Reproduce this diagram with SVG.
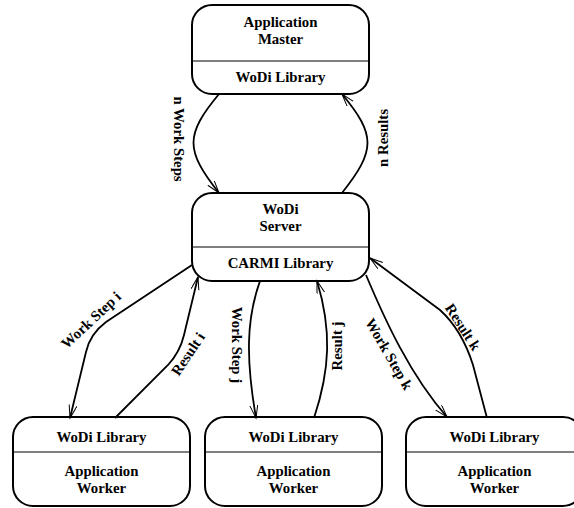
<svg xmlns="http://www.w3.org/2000/svg" width="574" height="508" viewBox="0 0 574 508">
<style>
.box{fill:#fff;stroke:#000;stroke-width:2}
.div{stroke:#000;stroke-width:1.2}
.t{font-family:"Liberation Serif","Times New Roman",serif;font-weight:bold;font-size:14.8px;fill:#000;text-anchor:middle}
.c{fill:none;stroke:#000;stroke-width:1.8}
</style>
<defs>
<marker id="arr" markerUnits="userSpaceOnUse" markerWidth="16" markerHeight="10" refX="13" refY="4" orient="auto">
<path d="M0,0 L13,4 L0,8" fill="none" stroke="#000" stroke-width="1"/>
</marker>
</defs>
<rect width="574" height="508" fill="#fff"/>
<g id="master">
<rect class="box" x="192" y="5" width="177" height="89" rx="20"/>
<line class="div" x1="192" y1="61" x2="369" y2="61"/>
<text class="t" x="280.5" y="27">Application</text>
<text class="t" x="280.5" y="44">Master</text>
<text class="t" x="280.5" y="82">WoDi Library</text>
</g>
<g id="server">
<rect class="box" x="192" y="193" width="177" height="88" rx="20"/>
<line class="div" x1="192" y1="247" x2="369" y2="247"/>
<text class="t" x="280.5" y="214">WoDi</text>
<text class="t" x="280.5" y="231">Server</text>
<text class="t" x="280.5" y="268">CARMI Library</text>
</g>
<g id="worker1">
<rect class="box" x="13" y="417" width="177" height="89" rx="20"/>
<line class="div" x1="13" y1="452" x2="190" y2="452"/>
<text class="t" x="101.5" y="442">WoDi Library</text>
<text class="t" x="101.5" y="476">Application</text>
<text class="t" x="101.5" y="493">Worker</text>
</g>
<g id="worker2">
<rect class="box" x="205" y="417" width="177" height="89" rx="20"/>
<line class="div" x1="205" y1="452" x2="382" y2="452"/>
<text class="t" x="293.5" y="442">WoDi Library</text>
<text class="t" x="293.5" y="476">Application</text>
<text class="t" x="293.5" y="493">Worker</text>
</g>
<g id="worker3">
<rect class="box" x="406" y="417" width="177" height="89" rx="20"/>
<line class="div" x1="406" y1="452" x2="583" y2="452"/>
<text class="t" x="494.5" y="442">WoDi Library</text>
<text class="t" x="494.5" y="476">Application</text>
<text class="t" x="494.5" y="493">Worker</text>
</g>
<g id="connectors">
<path class="c" d="M219,94 C185,135 185,150 219,193" marker-end="url(#arr)"/>
<path class="c" d="M342,193 C376,150 376,135 342,94" marker-end="url(#arr)"/>
<path class="c" d="M192,265 L106,322 Q90,334 86,352 L70,418" marker-end="url(#arr)"/>
<path class="c" d="M115,418 L168,365 Q180,352 184,335 L198,277" marker-end="url(#arr)"/>
<path class="c" d="M260,281 C246,320 246,360 256,418" marker-end="url(#arr)"/>
<path class="c" d="M314,418 C330,370 332,330 317,281" marker-end="url(#arr)"/>
<path class="c" d="M366,275 C385,320 410,375 447,417" marker-end="url(#arr)"/>
<path class="c" d="M487,418 L473,365 Q462,330 440,310 L370,258" marker-end="url(#arr)"/>
<text class="t" transform="translate(179,139) rotate(90)" y="5">n Work Steps</text>
<text class="t" transform="translate(382.5,138) rotate(-90)" y="5">n Results</text>
<text class="t" transform="translate(91,320) rotate(-43)" y="5">Work Step i</text>
<text class="t" transform="translate(188,354) rotate(-56)" y="5">Result i</text>
<text class="t" transform="translate(237,345) rotate(90)" y="5">Work Step j</text>
<text class="t" transform="translate(337,346) rotate(-90)" y="5">Result j</text>
<text class="t" transform="translate(389,354) rotate(60)" y="5">Work Step k</text>
<text class="t" transform="translate(463,327) rotate(57)" y="5">Result k</text>
</g>
</svg>
